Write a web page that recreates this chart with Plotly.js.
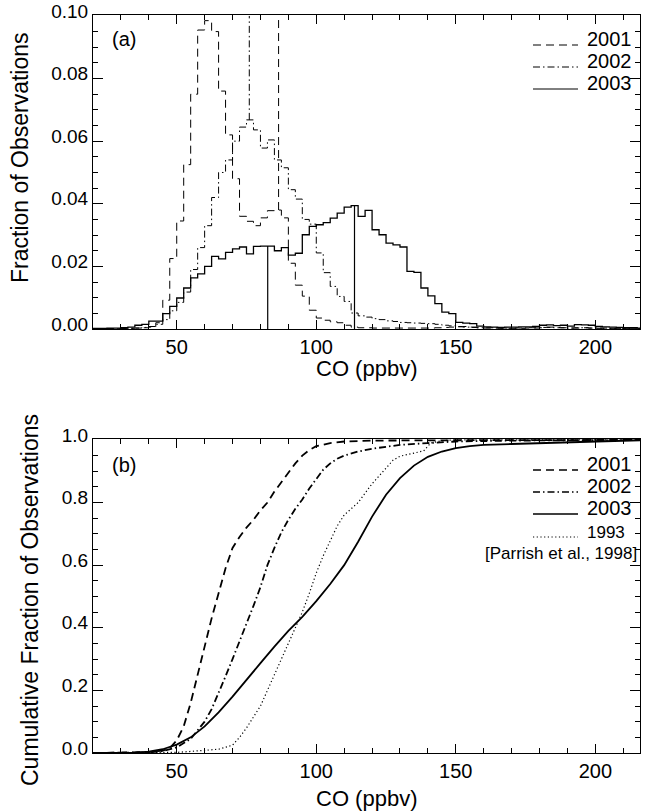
<!DOCTYPE html>
<html>
<head>
<meta charset="utf-8">
<script src="https://cdn.plot.ly/plotly-3.0.1.min.js"></script>
<style>html,body{margin:0;padding:0;background:#fff;}#chart{width:650px;height:811px;}</style>
</head>
<body>
<div id="chart"></div>
<script>
// ---------- DATA ----------
// histogram bins: lower edge of first bin and bin width (ppbv)
const binStart = 20;
const binWidth = 2.5;
const years = ['2001', '2002', '2003'];

// (a) fraction of observations per 2.5 ppbv bin, bins 20 ... 215
const frac2001 = [
  0, 0, 0.0001, 0.0001, 0.0002, 0.0002, 0.0003, 0.0004, 0.0006, 0.0020,
  0.0092, 0.0225, 0.0345, 0.0525, 0.0750, 0.0955, 0.0985, 0.0950, 0.0760, 0.0620,
  0.0480, 0.0360, 0.0344, 0.0330, 0.0355, 0.0378, 0.0380, 0.0355, 0.0210, 0.0140,
  0.0105, 0.0060, 0.0035, 0.0028, 0.0023, 0.0020, 0.0012, 0.0006, 0.0004, 0.0004,
  0.0003, 0.0003, 0.0003, 0.0003, 0.0003, 0.0003, 0.0003, 0.0003, 0.0003, 0.0004,
  0.0005, 0.0006, 0.0008, 0.0008, 0.0006, 0.0004, 0.0003, 0.0003, 0.0002, 0.0002,
  0.0002, 0.0002, 0.0003, 0.0003, 0.0004, 0.0006, 0.0005, 0.0004, 0.0003, 0.0003,
  0.0004, 0.0003, 0.0002, 0.0002, 0.0002, 0.0001, 0.0001, 0.0001, 0.0001
];
const frac2002 = [
  0, 0, 0.0001, 0.0001, 0.0002, 0.0002, 0.0003, 0.0005, 0.0008, 0.0015,
  0.0030, 0.0058, 0.0085, 0.0118, 0.0190, 0.0260, 0.0330, 0.0420, 0.0500, 0.0540,
  0.0600, 0.0645, 0.0668, 0.0636, 0.0578, 0.0604, 0.0540, 0.0515, 0.0445, 0.0415,
  0.0350, 0.0335, 0.0243, 0.0180, 0.0136, 0.0104, 0.0088, 0.0051, 0.0042, 0.0038,
  0.0033, 0.0030, 0.0026, 0.0024, 0.0021, 0.0020, 0.0019, 0.0018, 0.0017, 0.0015,
  0.0012, 0.0010, 0.0007, 0.0006, 0.0005, 0.0004, 0.0004, 0.0004, 0.0003, 0.0003,
  0.0003, 0.0003, 0.0004, 0.0004, 0.0005, 0.0005, 0.0004, 0.0004, 0.0003, 0.0004,
  0.0004, 0.0003, 0.0003, 0.0003, 0.0002, 0.0002, 0.0002, 0.0001, 0.0001
];
const frac2003 = [
  0.0002, 0.0002, 0.0003, 0.0003, 0.0004, 0.0006, 0.0012, 0.0015, 0.0025, 0.0025,
  0.0049, 0.0072, 0.0099, 0.0131, 0.0163, 0.0176, 0.0200, 0.0232, 0.0224, 0.0245,
  0.0256, 0.0262, 0.0240, 0.0264, 0.0265, 0.0265, 0.0250, 0.0260, 0.0236, 0.0242,
  0.0301, 0.0328, 0.0333, 0.0340, 0.0354, 0.0370, 0.0389, 0.0394, 0.0360, 0.0379,
  0.0317, 0.0301, 0.0274, 0.0269, 0.0262, 0.0184, 0.0181, 0.0131, 0.0106, 0.0081,
  0.0054, 0.0049, 0.0021, 0.0019, 0.0017, 0.0009, 0.0007, 0.0006, 0.0005, 0.0006,
  0.0006, 0.0007, 0.0007, 0.0008, 0.0012, 0.0013, 0.0011, 0.0012, 0.0009, 0.0014,
  0.0013, 0.0012, 0.0008, 0.0007, 0.0006, 0.0005, 0.0004, 0.0004, 0.0003
];

// vertical marker lines in (a)
const mark2003X = [82.6, 113.7];
const mark2003Top = [0.0265, 0.0394];
const mark2001X = [86.5];
const mark2001Base = [0.0380];
const mark2002X = [76.0];
const mark2002Base = [0.0668];

// (b) cumulative fraction of observations
const cdf2001X = [20, 35, 40, 45, 47.5, 50, 52.5, 55, 57.5, 60, 62.5, 65, 67.5, 70, 72.5, 75, 77.5, 80, 82.5, 85, 87.5, 90, 92.5, 95, 97.5, 100, 105, 110, 120, 150, 216];
const cdf2001Y = [0, 0.001, 0.003, 0.008, 0.015, 0.04, 0.085, 0.16, 0.25, 0.34, 0.43, 0.51, 0.59, 0.655, 0.69, 0.72, 0.745, 0.775, 0.80, 0.835, 0.865, 0.895, 0.925, 0.95, 0.968, 0.98, 0.99, 0.995, 0.998, 0.999, 1.0];

const cdf2002X = [20, 40, 45, 50, 55, 60, 62.5, 65, 67.5, 70, 72.5, 75, 77.5, 80, 82.5, 85, 87.5, 90, 92.5, 95, 97.5, 100, 102.5, 105, 107.5, 110, 115, 120, 125, 130, 140, 150, 170, 216];
const cdf2002Y = [0, 0.002, 0.006, 0.018, 0.045, 0.10, 0.14, 0.19, 0.245, 0.30, 0.355, 0.41, 0.47, 0.53, 0.60, 0.655, 0.705, 0.745, 0.78, 0.81, 0.845, 0.875, 0.905, 0.925, 0.94, 0.95, 0.963, 0.972, 0.978, 0.984, 0.99, 0.995, 0.998, 1.0];

const cdf2003X = [20, 35, 40, 45, 50, 55, 60, 65, 70, 75, 80, 85, 90, 95, 100, 105, 110, 115, 120, 125, 130, 135, 140, 145, 150, 155, 160, 170, 180, 190, 200, 216];
const cdf2003Y = [0, 0.001, 0.004, 0.012, 0.027, 0.05, 0.085, 0.13, 0.18, 0.235, 0.287, 0.34, 0.39, 0.435, 0.485, 0.54, 0.60, 0.675, 0.755, 0.825, 0.878, 0.918, 0.946, 0.963, 0.974, 0.98, 0.984, 0.987, 0.99, 0.993, 0.996, 0.999];

const cdf1993X = [20, 50, 55, 60, 65, 70, 72.5, 75, 78, 80, 82.5, 85, 87.5, 90, 92.5, 95, 97.5, 100, 102.5, 105, 107.5, 110, 112.5, 115, 117.5, 120, 122.5, 125, 127.5, 130, 135, 138.5, 141, 145, 150, 216];
const cdf1993Y = [0, 0.002, 0.005, 0.008, 0.012, 0.025, 0.05, 0.08, 0.12, 0.15, 0.20, 0.25, 0.30, 0.355, 0.405, 0.45, 0.51, 0.575, 0.63, 0.675, 0.725, 0.76, 0.78, 0.80, 0.83, 0.86, 0.885, 0.91, 0.935, 0.948, 0.958, 0.965, 0.99, 0.998, 1.0, 1.0];

const fracTicks = [0, 0.02, 0.04, 0.06, 0.08, 0.10];
const fracTickText = ['0.00', '0.02', '0.04', '0.06', '0.08', '0.10'];
const cumTicks = [0, 0.2, 0.4, 0.6, 0.8, 1.0];
const cumTickText = ['0.0', '0.2', '0.4', '0.6', '0.8', '1.0'];
const coTicks = [50, 100, 150, 200];

const legendTop = ['2001', '2002', '2003'];
const legendBottom = ['2001', '2002', '2003', '1993', '[Parrish et al., 1998]'];

// ---------- STYLE ----------
const FONT = 'Liberation Sans, Arial, Helvetica, sans-serif';
const DASH = '8px,5px';
const DASHDOT = '7px,3px,1.5px,3px';
const DOT = '1.2px,2.5px';
const L = 93, R = 640, T = 15, B = 753;
const W = 650, H = 811;
function px(x) { return (x - L) / (R - L); }
function py(y) { return (B - y) / (B - T); }

function stepXY(vals) {
  const xs = [], ys = [];
  for (let i = 0; i < vals.length; i++) { xs.push(binStart + i * binWidth); ys.push(vals[i]); }
  xs.push(binStart + vals.length * binWidth); ys.push(vals[vals.length - 1]);
  return {x: xs, y: ys};
}
function vlines(xs, y0s, y1s) {
  const X = [], Y = [];
  for (let i = 0; i < xs.length; i++) { X.push(xs[i], xs[i], null); Y.push(y0s[i], y1s[i], null); }
  return {x: X, y: Y};
}

const h1 = stepXY(frac2001), h2 = stepXY(frac2002), h3 = stepXY(frac2003);
const m3 = vlines(mark2003X, mark2003X.map(() => 0), mark2003Top);
const m1 = vlines(mark2001X, mark2001Base, mark2001X.map(() => 0.1));
const m2 = vlines(mark2002X, mark2002Base, mark2002X.map(() => 0.1));

const traces = [
  {x: h1.x, y: h1.y, name: years[0], mode: 'lines', line: {shape: 'hv', color: '#000', width: 1, dash: DASH}, xaxis: 'x', yaxis: 'y'},
  {x: h2.x, y: h2.y, name: years[1], mode: 'lines', line: {shape: 'hv', color: '#000', width: 1, dash: DASHDOT}, xaxis: 'x', yaxis: 'y'},
  {x: h3.x, y: h3.y, name: years[2], mode: 'lines', line: {shape: 'hv', color: '#000', width: 1.3}, xaxis: 'x', yaxis: 'y'},
  {x: m3.x, y: m3.y, mode: 'lines', line: {color: '#000', width: 1.2}, xaxis: 'x', yaxis: 'y'},
  {x: m1.x, y: m1.y, mode: 'lines', line: {color: '#000', width: 1, dash: DASH}, xaxis: 'x', yaxis: 'y'},
  {x: m2.x, y: m2.y, mode: 'lines', line: {color: '#000', width: 1, dash: DASHDOT}, xaxis: 'x', yaxis: 'y'},
  {x: cdf2001X, y: cdf2001Y, name: years[0], mode: 'lines', line: {color: '#000', width: 1.8, dash: DASH}, xaxis: 'x2', yaxis: 'y2'},
  {x: cdf2002X, y: cdf2002Y, name: years[1], mode: 'lines', line: {color: '#000', width: 1.8, dash: DASHDOT}, xaxis: 'x2', yaxis: 'y2'},
  {x: cdf2003X, y: cdf2003Y, name: years[2], mode: 'lines', line: {color: '#000', width: 1.8}, xaxis: 'x2', yaxis: 'y2'},
  {x: cdf1993X, y: cdf1993Y, name: '1993', mode: 'lines', line: {color: '#000', width: 1.2, dash: DOT}, xaxis: 'x2', yaxis: 'y2'}
];

const tickFont = {family: FONT, size: 19, color: '#000'};
function xax(anchor) {
  return {
    anchor: anchor, domain: [0, 1], range: [20, 216], tickmode: 'array', tickvals: coTicks, ticktext: coTicks.map(String),
    ticks: 'inside', ticklen: 9, tickwidth: 1, tickcolor: '#000',
    minor: {dtick: 10, tick0: 0, ticks: 'inside', ticklen: 5, tickwidth: 1, tickcolor: '#000'},
    showline: true, linecolor: '#000', linewidth: 1, mirror: 'ticks',
    showgrid: false, zeroline: false, tickfont: {family: FONT, size: 20, color: '#000'}
  };
}
function yax(anchor, dom, rng, tv, tt, mdt) {
  return {
    anchor: anchor, domain: dom, range: rng, tickmode: 'array', tickvals: tv, ticktext: tt,
    ticks: 'inside', ticklen: 10, tickwidth: 1, tickcolor: '#000', ticklabelshift: -5,
    minor: {dtick: mdt, tick0: 0, ticks: 'inside', ticklen: 5, tickwidth: 1, tickcolor: '#000'},
    showline: true, linecolor: '#000', linewidth: 1, mirror: 'ticks',
    showgrid: false, zeroline: false, tickfont: tickFont
  };
}

const topDom = [py(329), 1];
const botDom = [0, py(439)];

const ann = [];
const shapes = [];
function txt(s, x, y, size, xanchor, angle) {
  ann.push({text: s, xref: 'paper', yref: 'paper', x: px(x), y: py(y), xanchor: xanchor || 'left', yanchor: 'middle',
    showarrow: false, textangle: angle || 0, font: {family: FONT, size: size, color: '#000'}});
}
function seg(x0, x1, y, dash, w) {
  shapes.push({type: 'line', xref: 'paper', yref: 'paper', x0: px(x0), x1: px(x1), y0: py(y), y1: py(y),
    line: {color: '#000', width: w, dash: dash}});
}

// panel labels
txt('(a)', 110, 39, 20);
txt('(b)', 110, 465, 20);
// axis titles
txt('CO (ppbv)', 366, 368, 22, 'center');
txt('CO (ppbv)', 366, 798, 22, 'center');
txt('Fraction of Observations', 20, 158, 23, 'center', -90);
txt('Cumulative Fraction of Observations', 30, 600, 23, 'center', -90);

// legend (a)
const legTopY = [39, 61, 83];
const legTopDash = [DASH, DASHDOT, 'solid'];
legendTop.forEach((s, i) => { txt(s, 585, legTopY[i], 20); seg(533, 578, legTopY[i] + 6, legTopDash[i], 1); });
// legend (b)
const legBotY = [464, 486, 508, 532];
const legBotDash = [DASH, DASHDOT, 'solid', DOT];
for (let i = 0; i < 4; i++) {
  txt(legendBottom[i], 585, legBotY[i], i < 3 ? 20 : 17);
  seg(533, 578, legBotY[i] + (i < 3 ? 6 : 5), legBotDash[i], i < 3 ? 1.5 : 1.2);
}
txt(legendBottom[4], 639, 553, 17, 'right');

const layout = {
  width: W, height: H,
  margin: {l: L, r: W - R, t: T, b: H - B, pad: 0},
  paper_bgcolor: '#fff', plot_bgcolor: '#fff',
  showlegend: false,
  font: {family: FONT, color: '#000'},
  xaxis: xax('y'),
  yaxis: yax('x', topDom, [0, 0.1003], fracTicks, fracTickText, 0.005),
  xaxis2: xax('y2'),
  yaxis2: yax('x2', botDom, [0, 1.003], cumTicks, cumTickText, 0.05),
  annotations: ann,
  shapes: shapes
};

Plotly.newPlot('chart', traces, layout, {displayModeBar: false, staticPlot: true});
</script>
</body>
</html>
